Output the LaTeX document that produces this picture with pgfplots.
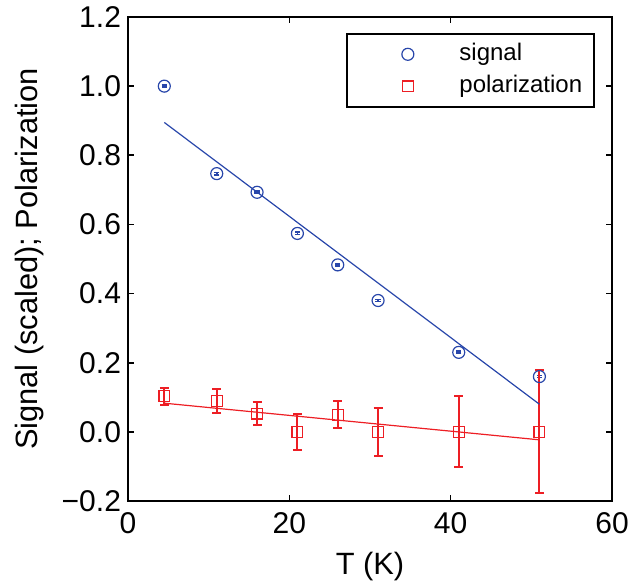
\documentclass[border=0pt]{standalone}
\usepackage{fontspec}
\setmainfont{Liberation Sans}
\usepackage{pgfplots}
\pgfplotsset{compat=1.18}
\usepackage{pgfplotstable}
\definecolor{sigblue}{RGB}{40,70,170}
\definecolor{polred}{RGB}{237,30,36}

\pgfplotstableread{
x y e
4.5 1.000 0.003
11 0.747 0.003
16 0.693 0.003
21 0.574 0.003
26 0.483 0.003
31 0.380 0.003
41 0.230 0.003
51 0.160 0.003
}\signaldata

\pgfplotstableread{
x y e
4.5 0.103 0.025
11 0.090 0.035
16 0.053 0.034
21 0.000 0.053
26 0.049 0.039
31 0.000 0.070
41 0.000 0.103
51 0.000 0.178
}\poldata

\begin{document}
\begin{tikzpicture}
\begin{axis}[
  scale only axis,
  width=242pt, height=242pt,
  xmin=0, xmax=60, ymin=-0.2, ymax=1.2,
  xtick={0,20,40,60},
  ytick={-0.2,0,0.2,0.4,0.6,0.8,1.0,1.2},
  yticklabels={−0.2,0.0,0.2,0.4,0.6,0.8,1.0,1.2},
  /pgf/number format/assume math mode=true,
  tick align=inside,
  major tick length=3pt,
  minor tick num=0,
  axis line style={line width=0.8pt},
  every tick/.style={black, line width=0.8pt},
  tick label style={font=\fontsize{15}{18}\selectfont},
  xticklabel style={yshift=-2pt},
  xlabel={T (K)},
  ylabel={Signal (scaled); Polarization},
  every axis x label/.style={at={(axis description cs:0.5,-0.1508)}, anchor=base, font=\fontsize{15.4}{18}\selectfont},
  every axis y label/.style={at={(axis description cs:-0.188,0.5)}, rotate=90, anchor=base, font=\fontsize{15.4}{18}\selectfont},
  legend style={
    at={(1,1)}, anchor=north east, xshift=-8.5pt, yshift=-8pt,
    draw=black, line width=0.8pt, fill=white,
    inner xsep=4pt, inner ysep=2.25pt,
    font=\fontsize{12}{14}\selectfont,
    nodes={inner sep=2pt, text height=9pt, text depth=3pt},
  },
  legend cell align=left,
  legend image code/.code={
    \path (-26pt,0) (23.5pt,0);
    \draw[#1, only marks, line width=0.6pt] plot coordinates {(0pt,0pt)};
  },
]
\addplot[sigblue, only marks, mark=o, mark size=3pt, line width=0.6pt,
  error bars/.cd, y dir=both, y explicit,
  error bar style={line width=0.9pt, color=sigblue, solid},
  error mark options={rotate=90, mark size=1.3pt, line width=0.9pt, color=sigblue}]
  table[x=x, y=y, y error=e] {\signaldata};
\addlegendentry{signal}
\addplot[polred, only marks, mark=square, mark size=2.7pt, line width=0.6pt,
  error bars/.cd, y dir=both, y explicit,
  error bar style={line width=1pt, color=polred, solid},
  error mark options={rotate=90, mark size=2.25pt, line width=1pt, color=polred}]
  table[x=x, y=y, y error=e] {\poldata};
\addlegendentry{polarization}
\addplot[sigblue, line width=0.6pt, forget plot] coordinates {(4.5,0.895) (51,0.080)};
\addplot[polred, line width=0.6pt, forget plot] coordinates {(4.5,0.083) (51,-0.023)};
\coordinate (bl) at (rel axis cs:0,0);
\coordinate (tr) at (rel axis cs:1,1);
\end{axis}
\pgfresetboundingbox
\useasboundingbox ([shift={(-64pt,-42pt)}]bl) rectangle ([shift={(14.5pt,8.5pt)}]tr);
\end{tikzpicture}
\end{document}
